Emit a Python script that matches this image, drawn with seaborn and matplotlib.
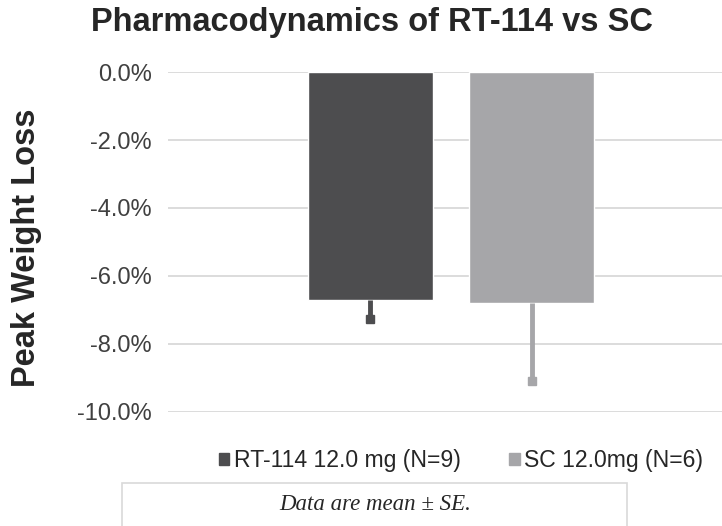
import matplotlib
matplotlib.use("Agg")
import matplotlib.pyplot as plt
import matplotlib.patches as mpatches
from matplotlib.ticker import FuncFormatter
import seaborn as sns
import pandas as pd

# Data
groups = ["RT-114 12.0 mg (N=9)", "SC 12.0mg (N=6)"]
mean_loss = [-6.72, -6.78]
se_loss = [0.55, 2.30]
colors = ["#4d4d4f", "#a6a6a9"]
yticks = [0, -2, -4, -6, -8, -10]

sns.set_theme(style="white")
plt.rcParams["font.family"] = ["Liberation Sans", "DejaVu Sans"]

df = pd.DataFrame({"cohort": ["all"] * len(groups), "group": groups, "loss": mean_loss})

fig = plt.figure(figsize=(7.22, 5.26), dpi=100)
ax = fig.add_axes([168 / 722, 1 - 412 / 526, 566 / 722, 340 / 526])

sns.barplot(data=df, x="cohort", y="loss", hue="group", hue_order=groups,
            palette=colors, errorbar=None, width=0.569, gap=0.22,
            saturation=1, ax=ax, legend=False)

# one-sided (downward) standard error bars ending in a small square
for patch, m, se, c in zip(ax.patches, mean_loss, se_loss, colors):
    xc = patch.get_x() + patch.get_width() / 2
    ax.plot([xc, xc], [m, m - se], color=c, linewidth=3.5, solid_capstyle="butt")
    ax.plot([xc], [m - se], marker="s", markersize=6, color=c, linestyle="none")

ax.set_ylim(-10, 0)
ax.set_xlim(-0.5, 0.5)
ax.set_yticks(yticks)
ax.yaxis.set_major_formatter(FuncFormatter(lambda v, p: f"{v:.1f}%"))
ax.tick_params(axis="y", labelsize=17, colors="#404040", length=0, pad=11.5)
ax.set_xticks([])
ax.set_xlabel("")
ax.set_ylabel("")
ax.yaxis.grid(True, color="#d9d9d9", linewidth=1.3)
ax.set_axisbelow(True)
for s in ax.spines.values():
    s.set_visible(False)

fig.text(27 / 722, 1 - 248 / 526, "Peak Weight Loss", rotation=90,
         ha="center", va="center", fontsize=23.5, fontweight="bold", color="#262626")

fig.text(372 / 722, 1 - 23 / 526, "Pharmacodynamics of RT-114 vs SC",
         ha="center", va="center", fontsize=23.5, fontweight="bold", color="#262626")

handles = [mpatches.Patch(color=c, label=g) for g, c in zip(groups, colors)]
fig.legend(handles=handles, loc="center", bbox_to_anchor=(461 / 722, 1 - 461 / 526),
           ncol=2, frameon=False, fontsize=16.6, handlelength=0.45, handleheight=0.45,
           handletextpad=0.2, columnspacing=2.1, labelcolor="#262626")

# note box beneath the legend
box = mpatches.Rectangle((122 / 722, -0.02), (627 - 122) / 722, (0.02 + 1 - 483 / 526),
                         transform=fig.transFigure, facecolor="white",
                         edgecolor="#d9d9d9", linewidth=1.2)
fig.add_artist(box)
fig.text(375 / 722, 1 - 505 / 526, "Data are mean \u00b1 SE.", ha="center", va="center",
         fontsize=16.5, fontstyle="italic", family=["Liberation Serif", "DejaVu Serif"],
         color="#262626")

fig.savefig("out.png", dpi=100)
